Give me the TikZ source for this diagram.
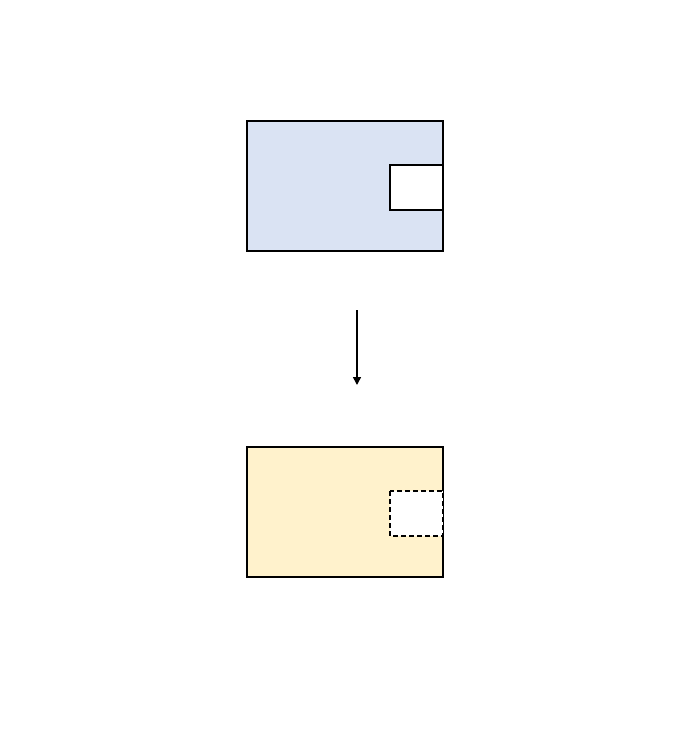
\documentclass[tikz,border=0pt]{standalone}
\usetikzlibrary{arrows.meta}
\definecolor{bluefill}{HTML}{DAE3F3}
\definecolor{yellowfill}{HTML}{FFF2CC}
\begin{document}
\begin{tikzpicture}[x=1pt,y=-1pt,
  outerbox/.style={draw=black,line width=1.5pt},
  innerbox/.style={draw=black,fill=white,line width=1.5pt},
  link/.style={draw=black,line width=1.5pt,-{Triangle[length=8pt,width=8pt]}}]
\useasboundingbox (0,0) rectangle (678,748);
\path[outerbox,fill=bluefill] (247,121) rectangle (443,251);
\path[innerbox] (390,165) rectangle (443,210);
\path[outerbox,fill=yellowfill] (247,447) rectangle (443,577);
\path[innerbox,dashed,dash pattern=on 5pt off 3pt] (390,491) rectangle (443,536);
\coordinate (a) at (357,310);
\coordinate (b) at (357,385);
\draw[link] (a) -- (b);
\end{tikzpicture}
\end{document}
